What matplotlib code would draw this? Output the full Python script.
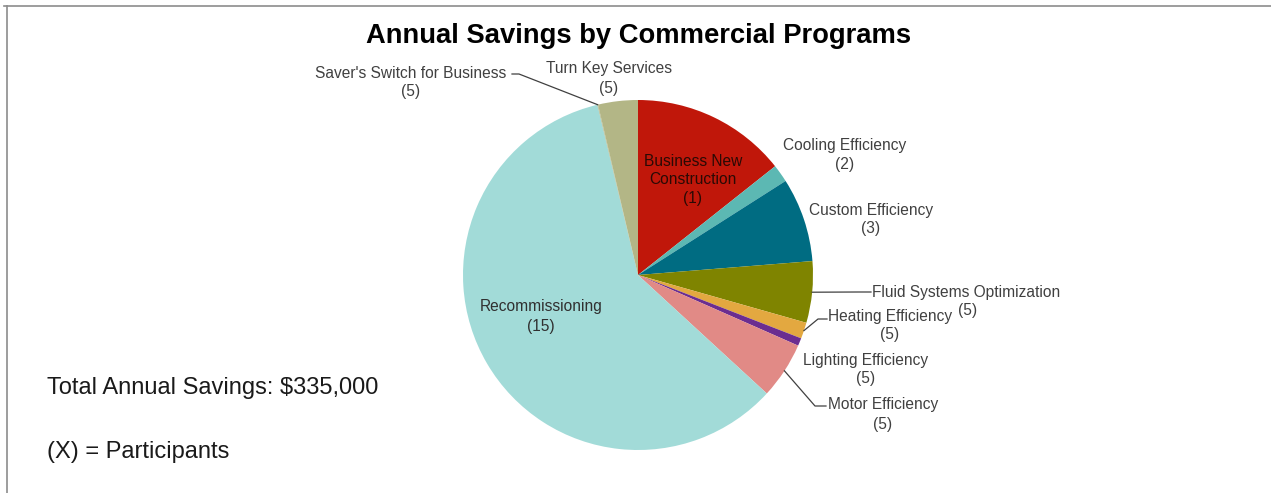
import numpy as np
import matplotlib
matplotlib.use("Agg")
import matplotlib.pyplot as plt
from matplotlib.lines import Line2D

# Program savings (USD) and participant counts, in drawing order (clockwise from 12 o'clock)
programs = [
    "Business New",
    "Cooling Efficiency",
    "Custom Efficiency",
    "Fluid Systems Optimization",
    "Heating Efficiency",
    "Lighting Efficiency",
    "Motor Efficiency",
    "Recommissioning",
    "Saver's Switch for Business",
    "Turn Key Services",
]
savings = [48000, 5500, 26000, 19000, 5000, 2400, 17500, 199100, 200, 12300]
participants = [1, 2, 3, 5, 5, 5, 5, 15, 5, 5]
colors = ["#C0170A", "#5CB8B3", "#006C82", "#7F8400", "#E3A840",
          "#6B2D90", "#E18A86", "#A2DBD8", "#B1B485", "#B3B686"]

total_label = "Total Annual Savings: $335,000"
key_label = "(X) = Participants"
title = "Annual Savings by Commercial Programs"

W, H = 1271, 493
fig = plt.figure(figsize=(W / 100, H / 100), dpi=100)
plt.rcParams["font.family"] = ["Liberation Sans", "DejaVu Sans"]

# pie axes: centre (638, 275) px, radius 175 px
cx, cy, r = 638, 275, 175
ax = fig.add_axes([(cx - r) / W, (H - cy - r) / H, 2 * r / W, 2 * r / H])
wedges, _ = ax.pie(savings, colors=colors, startangle=90, counterclock=False,
                   radius=1.0, wedgeprops=dict(linewidth=0))
ax.set_xlim(-1, 1)
ax.set_ylim(-1, 1)
ax.set_aspect("equal")
ax.axis("off")


def px(x, y):
    """Figure pixel (from top-left) to figure fraction."""
    return x / W, 1 - y / H


def edge_point(w, frac=1.0, where=0.5):
    ang = np.deg2rad(w.theta1 + (w.theta2 - w.theta1) * where)
    return frac * np.cos(ang), frac * np.sin(ang)


label_color = "#404040"
fs = 11.2


def lab(name, count, x, y, color=label_color, cnt_x=None):
    fig.text(*px(x, y), name, ha="center", va="center", fontsize=fs, color=color)
    fig.text(*px(cnt_x if cnt_x is not None else x, y + 19), f"({count})",
             ha="center", va="center", fontsize=fs, color=color)


# inside labels
inner_color = "#2a0a05"
fig.text(*px(693, 161), programs[0], ha="center", va="center", fontsize=fs, color=inner_color)
fig.text(*px(693, 180), "Construction", ha="center", va="center", fontsize=fs, color=inner_color)
fig.text(*px(693, 198), f"({participants[0]})", ha="center", va="center",
         fontsize=fs, color=inner_color)
lab("Recommissioning", participants[7], 541, 307, color="#303030")

# outside labels
lab(programs[1], participants[1], 845, 145)
lab(programs[2], participants[2], 871, 210)
fig.text(*px(872, 292), programs[3], ha="left", va="center", fontsize=fs, color=label_color)
fig.text(*px(968, 311), f"({participants[3]})", ha="center", va="center", fontsize=fs, color=label_color)
lab(programs[4], participants[4], 890, 316)
lab(programs[5], participants[5], 866, 360)
lab(programs[6], participants[6], 883, 405)
lab(programs[8], participants[8], 411, 73)
lab(programs[9], participants[9], 609, 69)


def leader(w, pts_px):
    ex, ey = edge_point(w)
    p0 = ax.transData.transform((ex, ey))
    p0 = fig.transFigure.inverted().transform(p0)
    xs = [p0[0]] + [px(*p)[0] for p in pts_px]
    ys = [p0[1]] + [px(*p)[1] for p in pts_px]
    fig.add_artist(Line2D(xs, ys, transform=fig.transFigure, color="#404040", lw=0.9))


leader(wedges[3], [(858, 292), (871, 292)])
leader(wedges[4], [(818, 319), (827, 319)])
leader(wedges[6], [(815, 406), (826, 406)])
leader(wedges[8], [(519, 74), (512, 74)])

# title
fig.text(*px(639, 36), title, ha="center", va="center", fontsize=19.7,
         fontweight="bold", color="black")

# notes
fig.text(*px(47, 388), total_label, ha="left", va="center", fontsize=17, color="#1a1a1a")
fig.text(*px(47, 452), key_label, ha="left", va="center", fontsize=17, color="#1a1a1a")

# frame (top and left edges)
fig.add_artist(Line2D([px(4, 6)[0], 1.0], [px(4, 6)[1]] * 2, transform=fig.transFigure,
                      color="#8c8c8c", lw=1.2))
fig.add_artist(Line2D([px(7, 6)[0]] * 2, [px(7, 6)[1], 0.0], transform=fig.transFigure,
                      color="#8c8c8c", lw=1.2))

fig.savefig("out.png", dpi=100, facecolor="white")
